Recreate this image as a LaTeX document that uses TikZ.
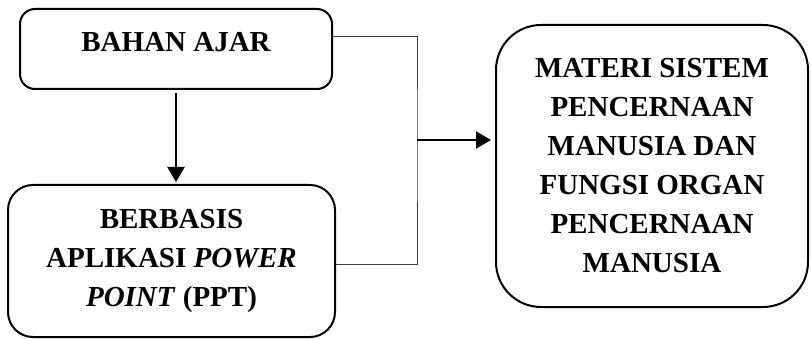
\documentclass[tikz,border=0pt]{standalone}
\usepackage{fontspec}
\setmainfont{Liberation Serif}
\usetikzlibrary{arrows.meta}
\begin{document}
\begin{tikzpicture}[x=1pt,y=-1pt,
  box/.style={draw=black,line width=2pt,rounded corners=#1,align=center,
    font=\fontsize{29}{39}\selectfont\bfseries,inner sep=0pt},
  conn/.style={draw=black!75,line width=1pt},
  arr/.style={draw=black,line width=2pt,-{Triangle[length=15pt,width=17pt]}}]
\useasboundingbox (0,0) rectangle (811,339);
\node[box=15pt,minimum width=312pt,minimum height=80pt,text height=20pt,text depth=14pt] (b1) at (176,49) {BAHAN AJAR};
\node[box=25pt,minimum width=327pt,minimum height=152pt] (b2) at (171.5,261) {BERBASIS\\APLIKASI \textit{POWER}\\\textit{POINT} (PPT)};
\node[box=45pt,minimum width=312pt,minimum height=282pt] (b3) at (652,166) {MATERI SISTEM\\PENCERNAAN\\MANUSIA DAN\\FUNGSI ORGAN\\PENCERNAAN\\MANUSIA};
\coordinate (j) at (417,140);
\draw[conn] ([yshift=12pt]b1.east) -| (j) |- ([yshift=-3pt]b2.east);
\draw[arr,shorten >=4pt] (j) -- (j -| b3.west);
\draw[arr,shorten <=3pt,shorten >=2pt] (b1.south) -- (b2.north -| b1.south);
\end{tikzpicture}
\end{document}
